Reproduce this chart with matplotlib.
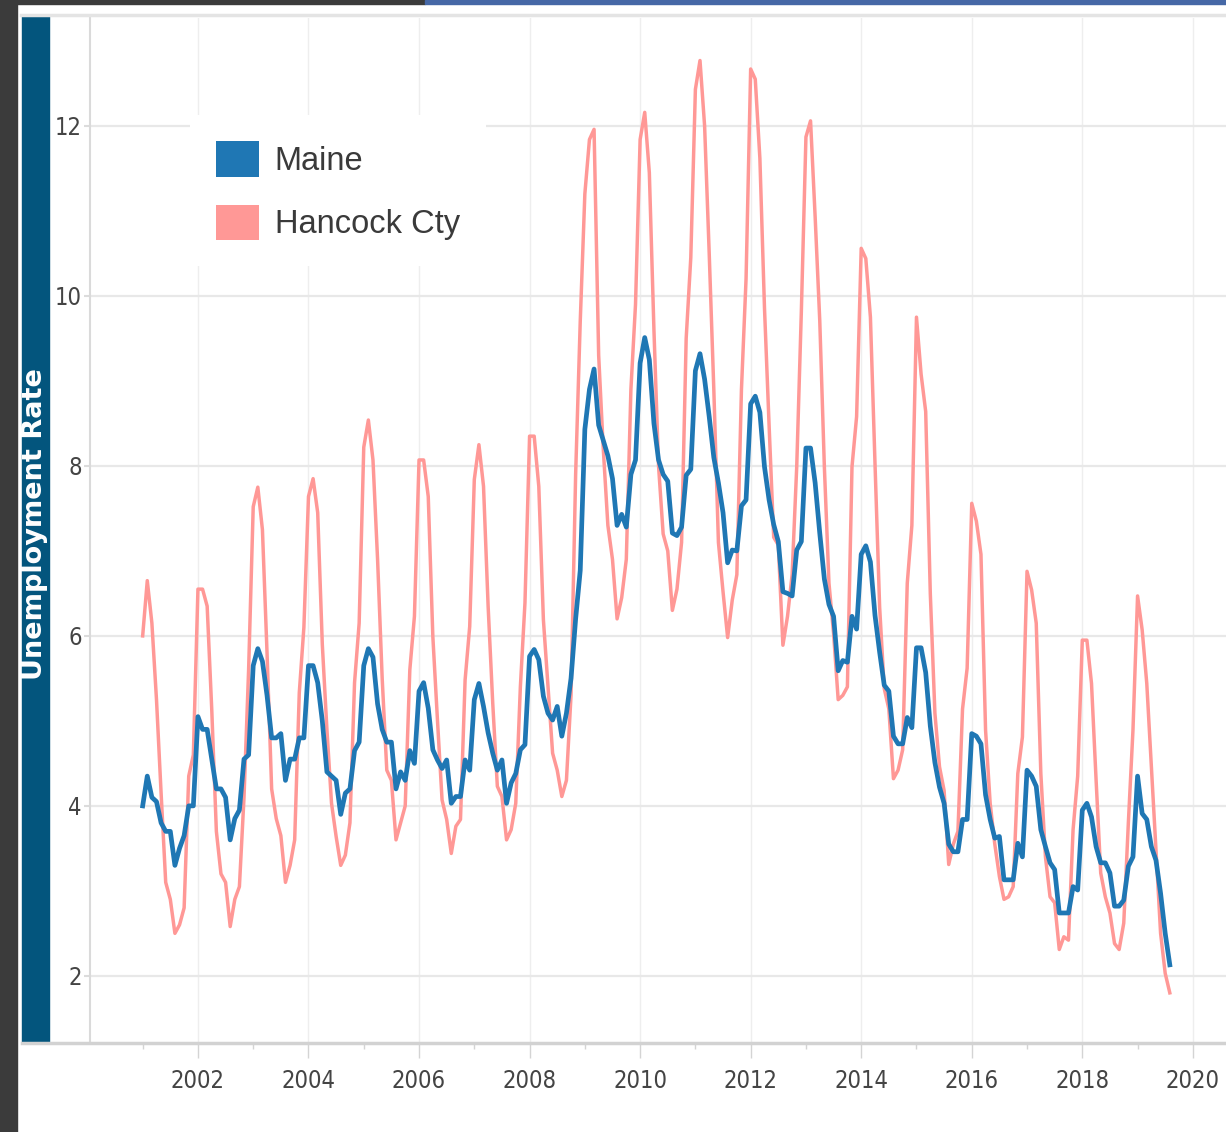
import numpy as np
import matplotlib
matplotlib.use("Agg")
import matplotlib.pyplot as plt
from matplotlib.patches import Patch, Rectangle
from matplotlib.lines import Line2D

# Monthly unemployment rate (%), Jan 2001 .. Aug 2019
maine = [
    4.0, 4.35, 4.1, 4.05, 3.8, 3.7, 3.7, 3.3, 3.5, 3.65, 4.0, 4.0,          # 2001
    5.05, 4.9, 4.9, 4.55, 4.2, 4.2, 4.1, 3.6, 3.85, 3.95, 4.55, 4.6,        # 2002
    5.65, 5.85, 5.7, 5.3, 4.8, 4.8, 4.85, 4.3, 4.55, 4.55, 4.8, 4.8,        # 2003
    5.65, 5.65, 5.45, 5.0, 4.4, 4.35, 4.3, 3.9, 4.15, 4.2, 4.65, 4.75,      # 2004
    5.65, 5.85, 5.75, 5.2, 4.9, 4.75, 4.75, 4.2, 4.4, 4.3, 4.65, 4.5,       # 2005
    5.35, 5.45, 5.15, 4.66, 4.54, 4.44, 4.54, 4.03, 4.11, 4.11, 4.54, 4.42, # 2006
    5.25, 5.44, 5.17, 4.86, 4.62, 4.42, 4.54, 4.03, 4.27, 4.38, 4.66, 4.72, # 2007
    5.76, 5.84, 5.72, 5.29, 5.09, 5.01, 5.17, 4.82, 5.09, 5.5, 6.2, 6.77,   # 2008
    8.43, 8.9, 9.14, 8.48, 8.3, 8.12, 7.85, 7.3, 7.43, 7.28, 7.9, 8.07,     # 2009
    9.21, 9.51, 9.25, 8.5, 8.07, 7.9, 7.82, 7.21, 7.18, 7.28, 7.89, 7.96,   # 2010
    9.12, 9.32, 9.02, 8.58, 8.1, 7.8, 7.45, 6.86, 7.01, 7.0, 7.53, 7.6,     # 2011
    8.73, 8.82, 8.63, 7.99, 7.6, 7.31, 7.11, 6.52, 6.5, 6.47, 7.01, 7.11,   # 2012
    8.21, 8.21, 7.8, 7.21, 6.67, 6.37, 6.23, 5.59, 5.71, 5.69, 6.23, 6.08,  # 2013
    6.96, 7.06, 6.87, 6.24, 5.81, 5.42, 5.35, 4.82, 4.73, 4.73, 5.04, 4.92, # 2014
    5.86, 5.86, 5.57, 4.94, 4.51, 4.22, 4.03, 3.55, 3.46, 3.46, 3.84, 3.84, # 2015
    4.85, 4.82, 4.73, 4.13, 3.84, 3.62, 3.64, 3.13, 3.13, 3.13, 3.56, 3.4,  # 2016
    4.42, 4.35, 4.23, 3.72, 3.52, 3.33, 3.25, 2.74, 2.74, 2.74, 3.05, 3.01, # 2017
    3.95, 4.03, 3.87, 3.52, 3.33, 3.33, 3.21, 2.82, 2.82, 2.89, 3.29, 3.4,  # 2018
    4.35, 3.91, 3.84, 3.52, 3.36, 2.97, 2.5, 2.13,                          # 2019
]
hancock = [
    6.0, 6.65, 6.15, 5.25, 4.15, 3.1, 2.9, 2.5, 2.6, 2.8, 4.35, 4.6,
    6.55, 6.55, 6.35, 5.13, 3.7, 3.2, 3.1, 2.58, 2.9, 3.05, 4.1, 5.6,
    7.52, 7.75, 7.25, 5.8, 4.2, 3.85, 3.65, 3.1, 3.3, 3.6, 5.33, 6.1,
    7.64, 7.85, 7.45, 5.9, 4.9, 4.03, 3.64, 3.3, 3.42, 3.8, 5.45, 6.15,
    8.22, 8.54, 8.07, 6.9, 5.5, 4.42, 4.3, 3.6, 3.8, 4.0, 5.6, 6.23,
    8.07, 8.07, 7.64, 5.99, 5.01, 4.07, 3.84, 3.44, 3.76, 3.84, 5.48, 6.11,
    7.84, 8.25, 7.76, 6.35, 5.21, 4.23, 4.11, 3.6, 3.72, 4.03, 5.4, 6.39,
    8.35, 8.35, 7.76, 6.19, 5.4, 4.62, 4.42, 4.11, 4.3, 5.3, 7.9, 9.7,
    11.2, 11.84, 11.96, 9.3, 8.2, 7.3, 6.9, 6.2, 6.45, 6.9, 8.9, 9.9,
    11.84, 12.16, 11.45, 9.6, 8.0, 7.2, 7.0, 6.3, 6.55, 7.1, 9.5, 10.45,
    12.43, 12.77, 12.0, 10.5, 8.9, 7.1, 6.52, 5.98, 6.42, 6.72, 8.9, 10.2,
    12.67, 12.55, 11.62, 9.86, 8.48, 7.16, 7.07, 5.89, 6.23, 6.72, 7.99, 9.81,
    11.87, 12.06, 10.93, 9.71, 7.99, 6.62, 6.03, 5.25, 5.3, 5.4, 7.99, 8.58,
    10.56, 10.44, 9.75, 8.02, 6.34, 5.38, 5.14, 4.32, 4.42, 4.66, 6.62, 7.3,
    9.75, 9.08, 8.64, 6.5, 5.09, 4.46, 4.18, 3.31, 3.55, 3.7, 5.14, 5.62,
    7.56, 7.35, 6.96, 4.89, 4.03, 3.55, 3.17, 2.9, 2.93, 3.05, 4.38, 4.81,
    6.76, 6.54, 6.15, 4.38, 3.4, 2.93, 2.86, 2.31, 2.46, 2.42, 3.72, 4.35,
    5.95, 5.95, 5.44, 4.3, 3.21, 2.93, 2.74, 2.38, 2.31, 2.62, 3.8, 4.89,
    6.47, 6.07, 5.44, 4.46, 3.5, 2.5, 2.03, 1.8,
]
start_year = 2001
series_names = ['Maine', 'Hancock Cty']
year_ticks = list(range(2002, 2021, 2))
minor_year_ticks = list(range(2001, 2021, 2))
rate_ticks = [2, 4, 6, 8, 10, 12]

W, H = 1226, 1132
fig = plt.figure(figsize=(W / 100, H / 100), dpi=100, facecolor='white')


def fx(px):
    return px / W


def fy(py):
    return 1 - py / H


# screenshot frame around the chart
fig.patches.append(Rectangle((0, 0), fx(17), 1, transform=fig.transFigure,
                             color='#3b3b3b', zorder=0))
fig.patches.append(Rectangle((0, fy(4)), fx(425), 4 / H, transform=fig.transFigure,
                             color='#3b3b3b', zorder=0))
fig.patches.append(Rectangle((fx(425), fy(4)), 1 - fx(425), 4 / H,
                             transform=fig.transFigure, color='#4668a6', zorder=0))

# axis title band
fig.patches.append(Rectangle((fx(22), fy(1042)), fx(49) - fx(22), fy(16) - fy(1042),
                             transform=fig.transFigure, color='#03557d', zorder=1))
fig.text(fx(35.5), fy(524), 'Unemployment Rate', rotation=90, color='white',
         fontweight='bold', fontsize=19.5, ha='center', va='center')

# light frame lines
fig.lines.append(Line2D([fx(21), 1], [fy(15), fy(15)], transform=fig.transFigure,
                        color='#e4e4e4', lw=2.5))
fig.lines.append(Line2D([fx(22), 1], [fy(1043), fy(1043)], transform=fig.transFigure,
                        color='#d2d2d2', lw=2.5, zorder=3))

ax = fig.add_axes([fx(90), fy(1043), 1 - fx(90), fy(18) - fy(1043)])
ax.set_facecolor('white')

x = start_year + np.arange(len(maine)) / 12
ax.plot(x, hancock, color='#ff9896', lw=2.5, zorder=3, solid_joinstyle='round')
ax.plot(x, maine, color='#1f77b4', lw=3.4, zorder=4, solid_joinstyle='round')

ax.set_xlim(2000.047, 2020.6)
ax.set_ylim(1.21, 13.27)

ax.set_xticks(year_ticks)
ax.set_xticks(minor_year_ticks, minor=True)
ax.set_yticks(rate_ticks)

ax.tick_params(axis='x', which='major', length=11, width=1, color='#d4d4d4',
               labelsize=17, labelcolor='#444444', pad=8)
ax.tick_params(axis='x', which='minor', length=4, width=1, color='#d4d4d4')
ax.tick_params(axis='y', length=4.5, width=1.5, color='#dcdcdc',
               labelsize=17, labelcolor='#444444', pad=1.5)
for lab in ax.get_xticklabels() + ax.get_yticklabels():
    lab.set_family(['Liberation Sans Narrow', 'DejaVu Sans'])
    lab.set_fontstretch('condensed')

ax.grid(axis='y', color='#e8e8e8', lw=1.6, zorder=0)
ax.grid(axis='x', which='major', color='#eeeeee', lw=1.0, zorder=0)
ax.set_axisbelow(True)

for side in ['top', 'right', 'bottom']:
    ax.spines[side].set_visible(False)
ax.spines['left'].set_color('#dadada')
ax.spines['left'].set_linewidth(1.5)

handles = [Patch(facecolor='#1f77b4', edgecolor='none'),
           Patch(facecolor='#ff9896', edgecolor='none')]
leg = ax.legend(handles, series_names, loc='upper left',
                bbox_to_anchor=(fx(190), fy(115)), bbox_transform=fig.transFigure,
                frameon=True, fancybox=False, framealpha=1, facecolor='white',
                edgecolor='white', prop={'family': 'Liberation Sans', 'size': 23.5},
                handlelength=1.3, handleheight=1.3, handletextpad=0.5,
                borderpad=0.8, labelspacing=0.85, borderaxespad=0)
leg.get_frame().set_linewidth(0)
for t in leg.get_texts():
    t.set_color('#3a3a3a')

fig.savefig('out.png', dpi=100, facecolor='white')
